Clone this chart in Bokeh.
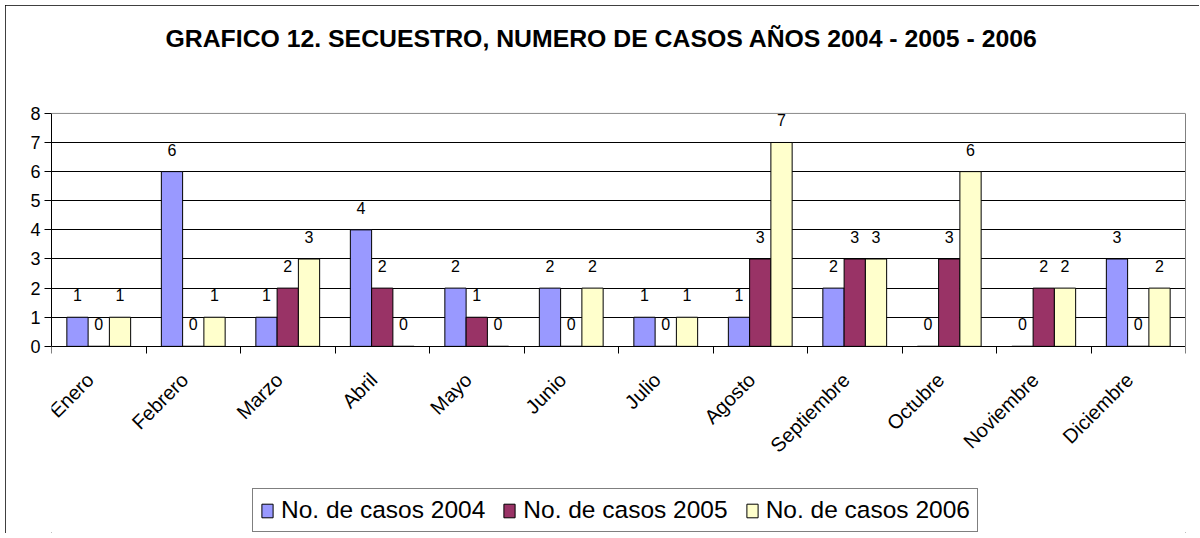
from bokeh.plotting import figure
from bokeh.models import (ColumnDataSource, FixedTicker, Legend, LegendItem, Title,
                          LinearAxis, Span)
from bokeh.transform import dodge
from bokeh.core.properties import value
from bokeh.embed import file_html
from bokeh.resources import INLINE
import math

title_text = "GRAFICO 12. SECUESTRO, NUMERO DE CASOS AÑOS 2004 - 2005 - 2006"
months = ["Enero", "Febrero", "Marzo", "Abril", "Mayo", "Junio", "Julio",
          "Agosto", "Septiembre", "Octubre", "Noviembre", "Diciembre"]
casos_2004 = [1, 6, 1, 4, 2, 2, 1, 1, 2, 0, 0, 3]
casos_2005 = [0, 0, 2, 2, 1, 0, 0, 3, 3, 3, 2, 0]
casos_2006 = [1, 1, 3, 0, 0, 2, 1, 7, 3, 6, 2, 2]
series_names = ["No. de casos 2004", "No. de casos 2005", "No. de casos 2006"]
y_ticks = [0, 1, 2, 3, 4, 5, 6, 7, 8]

colors = ["#9999FF", "#993366", "#FFFFCC"]
FONT = "Liberation Sans"

# layout: the frame extends below the value axis so that the legend fits inside it
Y_MAX = 8.03
Y_MIN = -6.425

pos = list(range(1, len(months) + 1))
src = ColumnDataSource(dict(
    pos=pos,
    v2004=casos_2004, v2005=casos_2005, v2006=casos_2006,
    t2004=[str(v) for v in casos_2004],
    t2005=[str(v) for v in casos_2005],
    t2006=[str(v) for v in casos_2006],
))

p = figure(frame_width=1134, frame_height=421,
           x_range=(0.5, len(months) + 0.5), y_range=(Y_MIN, Y_MAX),
           output_backend="svg", toolbar_location=None,
           min_border_left=46, min_border_right=14, min_border_top=107, min_border_bottom=0)

p.styles = {"margin-left": "5px", "margin-top": "5px",
            "outline": "1px solid black", "outline-offset": "-1px"}
p.background_fill_color = "white"
p.border_fill_color = "white"
p.outline_line_color = None

# spacer between title and plot area
p.add_layout(Title(text=" ", text_font_size="10px", standoff=48), "above")

# title
p.title.text = title_text
p.title.align = "left"
p.title.offset = 114
p.title.standoff = 0
p.title.text_font = FONT
p.title.text_font_size = "24.8px"
p.title.text_font_style = "bold"
p.title.text_color = "black"

# x axis at value 0
LABEL_SHIFT = 0.09
p.xaxis.fixed_location = 0
p.xaxis.ticker = FixedTicker(ticks=[i - LABEL_SHIFT for i in pos],
                             minor_ticks=[i + 0.5 for i in range(len(months) + 1)])
p.xaxis.major_label_overrides = {i - LABEL_SHIFT: m for i, m in zip(pos, months)}
p.xaxis.major_tick_out = 0
p.xaxis.major_tick_in = 0
p.xaxis.minor_tick_out = 7
p.xaxis.minor_tick_in = 0
p.xaxis.minor_tick_line_color = "black"
p.xaxis.axis_line_color = "black"
p.xaxis.major_label_orientation = math.pi / 4
p.xaxis.major_label_text_font = FONT
p.xaxis.major_label_text_font_size = "20px"
p.xaxis.major_label_text_color = "black"
p.xaxis.major_label_standoff = 23

# y axis
p.yaxis.bounds = (0, 8)
p.yaxis.ticker = FixedTicker(ticks=y_ticks)
p.yaxis.major_tick_out = 7
p.yaxis.major_tick_in = 0
p.yaxis.minor_tick_line_color = None
p.yaxis.major_tick_line_color = "black"
p.yaxis.axis_line_color = "black"
p.yaxis.major_label_text_font = FONT
p.yaxis.major_label_text_font_size = "18px"
p.yaxis.major_label_text_color = "black"
p.yaxis.major_label_standoff = 4

# plot-area border (top and right, grey)
right_axis = LinearAxis(bounds=(0, 8), ticker=FixedTicker(ticks=[]),
                        axis_line_color="#808080", major_tick_line_color=None,
                        minor_tick_line_color=None, major_label_text_font_size="0px")
p.add_layout(right_axis, "right")
p.add_layout(Span(location=8, dimension="width", line_color="#808080", line_width=1))

p.xgrid.grid_line_color = None
p.ygrid.ticker = FixedTicker(ticks=y_ticks[1:-1])
p.ygrid.grid_line_color = "black"
p.ygrid.grid_line_width = 1

# bars
W = 0.225
offsets = [-W, 0.0, W]
fields = ["v2004", "v2005", "v2006"]
tfields = ["t2004", "t2005", "t2006"]
renderers = []
for f, tf, off, c in zip(fields, tfields, offsets, colors):
    r = p.vbar(x=dodge("pos", off), top=f, width=W, bottom=0, source=src,
               fill_color=c, line_color="black", line_width=1)
    renderers.append(r)
    p.text(x=dodge("pos", off), y=f, text=tf, source=src, y_offset=-22,
           text_align="center", text_baseline="middle",
           text_font=value(FONT), text_font_size="16px", text_color="black")

legend = Legend(items=[LegendItem(label=n, renderers=[r]) for n, r in zip(series_names, renderers)],
                orientation="horizontal", location=(201, 1))
legend.label_text_font = FONT
legend.label_text_font_size = "24.5px"
legend.label_text_color = "black"
legend.glyph_width = 14
legend.glyph_height = 17
legend.label_standoff = 7
legend.spacing = 17
legend.padding = 7
legend.margin = 0
legend.border_line_color = "black"
legend.border_line_width = 1
legend.background_fill_alpha = 1
p.add_layout(legend, "center")

open("out.html", "w").write(file_html(p, INLINE))
